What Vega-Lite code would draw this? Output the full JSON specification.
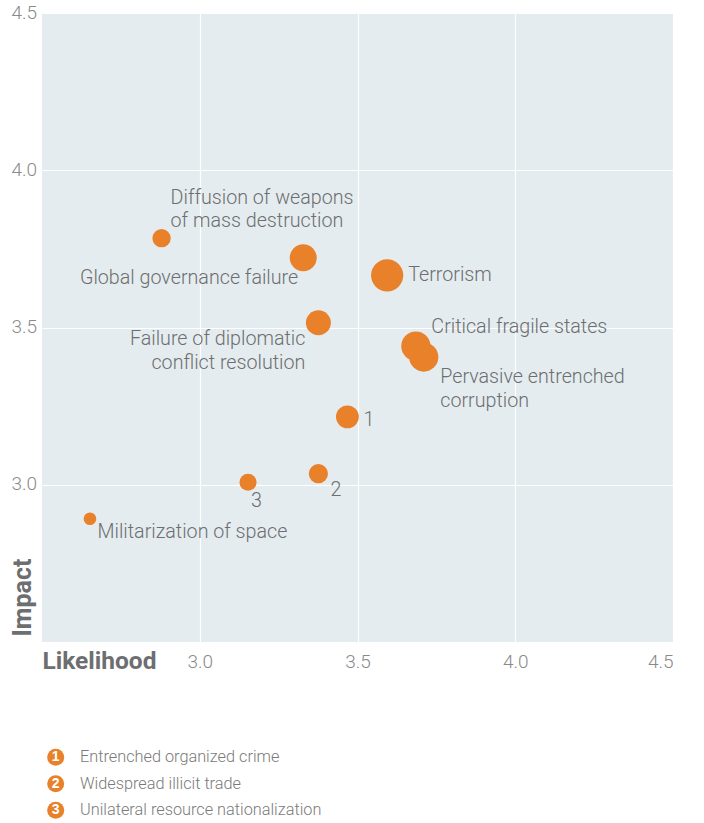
{
  "$schema": "https://vega.github.io/schema/vega-lite/v6.json",
  "background": "white",
  "padding": {"left": 10, "top": 3, "right": 0, "bottom": 0},
  "config": {
    "font": "Roboto",
    "view": {"stroke": null}
  },
  "datasets": {
    "risks": [
      {"risk": "Diffusion of weapons\nof mass destruction", "likelihood": 2.879, "impact": 3.784, "weight": 3.35},
      {"risk": "Global governance failure", "likelihood": 3.328, "impact": 3.722, "weight": 7.29},
      {"risk": "Terrorism", "likelihood": 3.594, "impact": 3.666, "weight": 10.4},
      {"risk": "Failure of diplomatic\nconflict resolution", "likelihood": 3.376, "impact": 3.515, "weight": 6.25},
      {"risk": "Critical fragile states", "likelihood": 3.685, "impact": 3.441, "weight": 8.6},
      {"risk": "Pervasive entrenched\ncorruption", "likelihood": 3.71, "impact": 3.406, "weight": 8.5},
      {"risk": "1", "likelihood": 3.468, "impact": 3.216, "weight": 5.2},
      {"risk": "2", "likelihood": 3.376, "impact": 3.035, "weight": 3.7},
      {"risk": "3", "likelihood": 3.153, "impact": 3.008, "weight": 2.9},
      {"risk": "Militarization of space", "likelihood": 2.652, "impact": 2.892, "weight": 1.6}
    ],
    "legend": [
      {"num": "1", "label": "Entrenched organized crime"},
      {"num": "2", "label": "Widespread illicit trade"},
      {"num": "3", "label": "Unilateral resource nationalization"}
    ]
  },
  "spacing": 71,
  "vconcat": [
    {
      "width": 631,
      "height": 629,
      "view": {"fill": "#E4ECEF", "stroke": null},
      "data": {"name": "risks"},
      "encoding": {
        "x": {
          "field": "likelihood", "type": "quantitative",
          "scale": {"domain": [2.5, 4.5], "nice": false, "zero": false},
          "axis": {
            "title": "Likelihood", "values": [3, 3.5, 4, 4.5], "format": ".1f",
            "grid": true, "gridColor": "white", "gridWidth": 1.2,
            "domain": false, "ticks": false, "tickSize": 0, "labelPadding": 10,
            "labelFontSize": 19, "labelColor": "#8a8a8a", "labelFontWeight": 300,
            "titleX": 0, "titleY": 26, "titleAlign": "left", "titleBaseline": "alphabetic",
            "titleFontSize": 24.5, "titleFontWeight": "bold", "titleColor": "#6d6e70"
          }
        },
        "y": {
          "field": "impact", "type": "quantitative",
          "scale": {"domain": [2.5, 4.5], "nice": false, "zero": false},
          "axis": {
            "title": "Impact", "values": [3, 3.5, 4, 4.5], "format": ".1f",
            "grid": true, "gridColor": "white", "gridWidth": 1.2,
            "domain": false, "ticks": false, "tickSize": 0, "labelPadding": 31,
            "labelAlign": "left", "labelBaseline": "middle", "labelOffset": -1,
            "labelFontSize": 19, "labelColor": "#8a8a8a", "labelFontWeight": 300,
            "titleX": -12, "titleY": 623, "titleAngle": -90, "titleAlign": "left", "titleBaseline": "alphabetic",
            "titleFontSize": 25, "titleFontWeight": "bold", "titleColor": "#6d6e70"
          }
        }
      },
      "layer": [
        {
          "mark": {"type": "circle", "opacity": 1, "color": "#E8812A"},
          "encoding": {
            "size": {"field": "weight", "type": "quantitative", "legend": null,
              "scale": {"type": "linear", "domain": [0, 12], "range": [0, 1200], "zero": true}}
          }
        },
        {
          "transform": [{"filter": "datum.risk === 'Diffusion of weapons\\nof mass destruction'"}],
          "mark": {"type": "text", "align": "left", "baseline": "middle", "dx": 9, "dy": -40.5, "lineBreak": "\n", "lineHeight": 23.5, "fontSize": 19.7, "fontWeight": 300, "color": "#6d6e70"},
          "encoding": {"text": {"field": "risk"}}
        },
        {
          "transform": [{"filter": "datum.risk === 'Global governance failure'"}],
          "mark": {"type": "text", "align": "right", "baseline": "middle", "dx": -5, "dy": 20.5, "fontSize": 19.7, "fontWeight": 300, "color": "#6d6e70"},
          "encoding": {"text": {"field": "risk"}}
        },
        {
          "transform": [{"filter": "datum.risk === 'Terrorism'"}],
          "mark": {"type": "text", "align": "left", "baseline": "middle", "dx": 21, "dy": 0, "fontSize": 19.7, "fontWeight": 300, "color": "#6d6e70"},
          "encoding": {"text": {"field": "risk"}}
        },
        {
          "transform": [{"filter": "datum.risk === 'Failure of diplomatic\\nconflict resolution'"}],
          "mark": {"type": "text", "align": "right", "baseline": "middle", "dx": -13, "dy": 16.5, "lineBreak": "\n", "lineHeight": 23.5, "fontSize": 19.7, "fontWeight": 300, "color": "#6d6e70"},
          "encoding": {"text": {"field": "risk"}}
        },
        {
          "transform": [{"filter": "datum.risk === 'Critical fragile states'"}],
          "mark": {"type": "text", "align": "left", "baseline": "middle", "dx": 15.5, "dy": -19, "fontSize": 19.7, "fontWeight": 300, "color": "#6d6e70"},
          "encoding": {"text": {"field": "risk"}}
        },
        {
          "transform": [{"filter": "datum.risk === 'Pervasive entrenched\\ncorruption'"}],
          "mark": {"type": "text", "align": "left", "baseline": "middle", "dx": 16.5, "dy": 20, "lineBreak": "\n", "lineHeight": 23.5, "fontSize": 19.7, "fontWeight": 300, "color": "#6d6e70"},
          "encoding": {"text": {"field": "risk"}}
        },
        {
          "transform": [{"filter": "datum.risk === '1'"}],
          "mark": {"type": "text", "align": "left", "baseline": "middle", "dx": 16, "dy": 3, "fontSize": 19.7, "fontWeight": 300, "color": "#6d6e70"},
          "encoding": {"text": {"field": "risk"}}
        },
        {
          "transform": [{"filter": "datum.risk === '2'"}],
          "mark": {"type": "text", "align": "center", "baseline": "middle", "dx": 17.5, "dy": 16.5, "fontSize": 19.7, "fontWeight": 300, "color": "#6d6e70"},
          "encoding": {"text": {"field": "risk"}}
        },
        {
          "transform": [{"filter": "datum.risk === '3'"}],
          "mark": {"type": "text", "align": "center", "baseline": "middle", "dx": 8.5, "dy": 18.5, "fontSize": 19.7, "fontWeight": 300, "color": "#6d6e70"},
          "encoding": {"text": {"field": "risk"}}
        },
        {
          "transform": [{"filter": "datum.risk === 'Militarization of space'"}],
          "mark": {"type": "text", "align": "left", "baseline": "middle", "dx": 7.5, "dy": 13.5, "fontSize": 19.7, "fontWeight": 300, "color": "#6d6e70"},
          "encoding": {"text": {"field": "risk"}}
        }
      ]
    },
    {
      "width": 631,
      "height": 79.5,
      "view": {"stroke": null},
      "data": {"name": "legend"},
      "encoding": {
        "y": {"field": "num", "type": "ordinal", "axis": null, "scale": {"type": "point", "padding": 0.5}}
      },
      "layer": [
        {
          "mark": {"type": "circle", "opacity": 1, "color": "#E8812A", "size": 289},
          "encoding": {"x": {"value": 13.7}}
        },
        {
          "mark": {"type": "text", "align": "center", "baseline": "middle", "fontSize": 14, "fontWeight": "bold", "color": "white", "font": "Liberation Sans"},
          "encoding": {"x": {"value": 13.7}, "text": {"field": "num"}}
        },
        {
          "mark": {"type": "text", "align": "left", "baseline": "middle", "fontSize": 16.3, "fontWeight": 300, "color": "#7a7a7a"},
          "encoding": {"x": {"value": 38}, "text": {"field": "label"}}
        }
      ]
    }
  ]
}
